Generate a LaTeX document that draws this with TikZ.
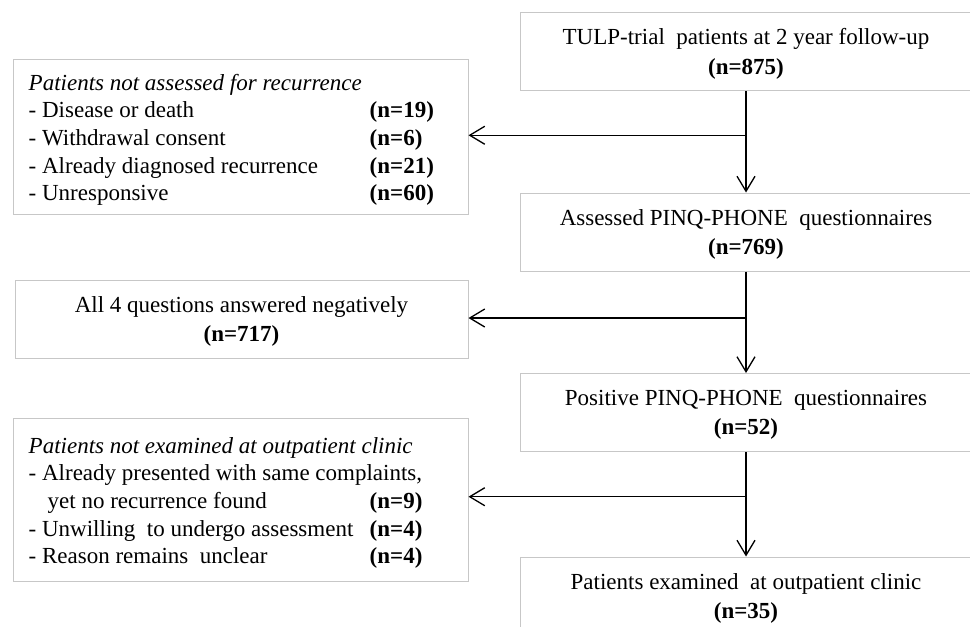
\documentclass[tikz,border=0pt]{standalone}
\usepackage{fontspec}
\setmainfont{Liberation Serif}
\usetikzlibrary{arrows.meta,calc}
\begin{document}
\begin{tikzpicture}[x=1pt,y=-1pt,
  box/.style={draw=black!22, line width=1pt, inner sep=0pt, minimum width=451pt, minimum height=78pt},
  lbox/.style={draw=black!22, line width=1pt, inner sep=0pt},
  txt/.style={inner sep=0pt, align=center, yshift=-2.5pt, font=\fontsize{23}{29.5}\selectfont},
  ltxt/.style={inner sep=0pt, anchor=west, yshift=-3.5pt, font=\fontsize{23}{27.7}\selectfont},
  flow/.style={line width=1.3pt, -{Straight Barb[length=15pt,width=18pt,line width=1.3pt]}},
  conn/.style={line width=1.3pt}
]
\useasboundingbox (0,0) rectangle (970,627);
\clip (0,0) rectangle (970,627);
\fill[white] (0,0) rectangle (970,627);

% right column
\node[box] (b1) at (746,51.5) {};
\node[txt] (t1) at (b1.center) {TULP-trial\ \ patients at 2 year follow-up\\\textbf{(n=875)}};
\node[box] (b2) at (746,232) {};
\node[txt] (t2) at (b2.center) {Assessed PINQ-PHONE\ \ questionnaires\\\textbf{(n=769)}};
\node[box] (b3) at (746,412.5) {};
\node[txt] (t3) at (b3.center) {Positive PINQ-PHONE\ \ questionnaires\\\textbf{(n=52)}};
\node[box] (b4) at (746,596) {};
\node[txt] (t4) at (b4.center) {Patients examined\ \ at outpatient clinic\\\textbf{(n=35)}};

% left column
\node[lbox, minimum width=455pt, minimum height=155pt] (la) at (240.5,136.5) {};
\node[ltxt] (lta) at ([xshift=16pt]la.west) {\begin{tabular}{@{}p{341pt}@{}l@{}}
\multicolumn{2}{@{}l@{}}{\textit{Patients not assessed for recurrence}}\\
- Disease or death & \textbf{(n=19)}\\
- Withdrawal consent & \textbf{(n=6)}\\
- Already diagnosed recurrence & \textbf{(n=21)}\\
- Unresponsive & \textbf{(n=60)}
\end{tabular}};

\node[lbox, minimum width=453pt, minimum height=78pt] (lb) at (241.5,319) {};
\node[txt] (ltb) at (lb.center) {All 4 questions answered negatively\\\textbf{(n=717)}};

\node[lbox, minimum width=455pt, minimum height=163pt] (lc) at (240.5,499.5) {};
\node[ltxt] (ltc) at ([xshift=16pt]lc.west) {\begin{tabular}{@{}p{341pt}@{}l@{}}
\multicolumn{2}{@{}l@{}}{\textit{Patients not examined at outpatient clinic}}\\
\multicolumn{2}{@{}l@{}}{- Already presented with same complaints,}\\
\hspace{19pt}yet no recurrence found & \textbf{(n=9)}\\
- Unwilling\ \ to undergo assessment & \textbf{(n=4)}\\
- Reason remains\ \ unclear & \textbf{(n=4)}
\end{tabular}};

% connectors
\coordinate (j1) at ($(b1.south)!0.436!(b2.north)$);
\coordinate (j2) at (746,318);
\coordinate (j3) at ($(b3.south)!0.428!(b4.north)$);
\draw[flow] (b1.south) -- (b2.north);
\draw[flow] (j1) -- (j1 -| la.east);
\draw[flow] (b2.south) -- (b3.north);
\draw[flow] (j2) -- (j2 -| lb.east);
\draw[flow] (b3.south) -- (b4.north);
\draw[flow] (j3) -- (j3 -| lc.east);
\end{tikzpicture}
\end{document}
